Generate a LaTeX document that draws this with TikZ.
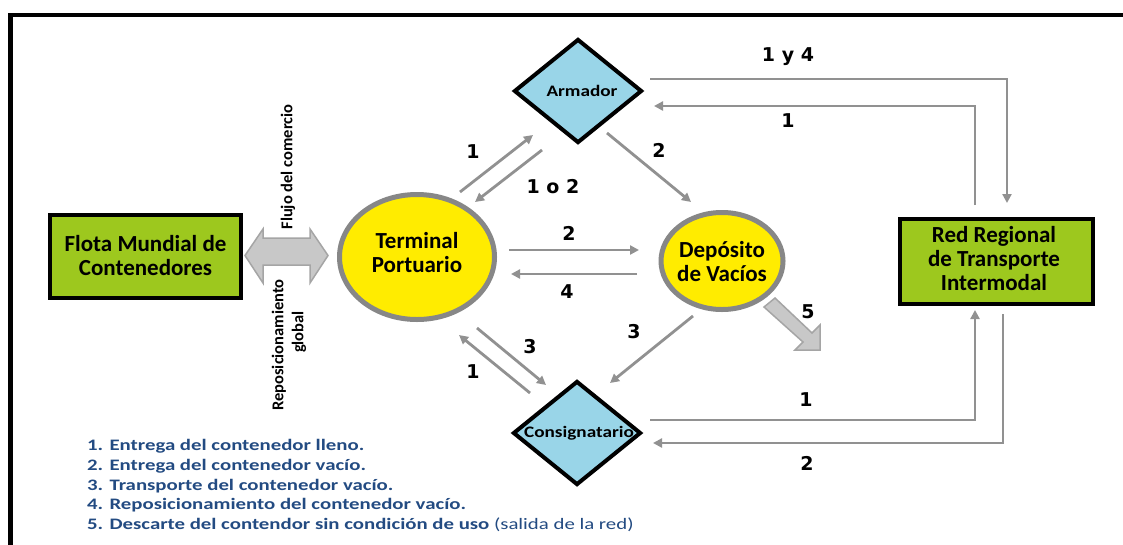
\documentclass[tikz,border=0pt]{standalone}
\usepackage{fontspec}
\setmainfont{Carlito}
\newfontfamily\lblfont{DejaVu Sans}
\newfontfamily\dmdfont{Carlito}[FakeStretch=1.2]
\newfontfamily\legfont{Carlito}[FakeStretch=1.3]
\usetikzlibrary{shapes.geometric,arrows.meta,calc}
\definecolor{grn}{RGB}{157,200,30}
\definecolor{ylw}{RGB}{255,236,0}
\definecolor{ringgray}{RGB}{135,135,135}
\definecolor{ltblue}{RGB}{153,213,232}
\definecolor{arrgray}{RGB}{145,145,145}
\definecolor{fatfill}{RGB}{200,200,200}
\definecolor{fatdraw}{RGB}{165,165,165}
\definecolor{legblue}{RGB}{35,75,130}
\begin{document}
\begin{tikzpicture}[x=1pt,y=-1pt,
 box/.style={draw=black,line width=4pt,fill=grn,rectangle,inner sep=0pt},
 hub/.style={draw=ringgray,line width=5pt,fill=ylw,ellipse,inner sep=0pt},
 actor/.style={draw=black,line width=4pt,fill=ltblue,diamond,inner sep=0pt},
 bigtxt/.style={font=\fontsize{23}{24}\selectfont\bfseries,align=center,inner sep=0pt},
 dtxt/.style={font=\dmdfont\fontsize{16}{18}\selectfont\bfseries,inner sep=0pt},
 num/.style={font=\lblfont\fontsize{19}{20}\selectfont\bfseries,inner sep=0pt},
 flow/.style={draw=arrgray,line width=2.8pt,-{Triangle[length=9pt,width=9pt]}},
 vtxt/.style={font=\fontsize{16.5}{19}\selectfont\bfseries,rotate=90,inner sep=0pt},
 fat/.style={fill=fatfill,draw=fatdraw,line width=1.5pt,line join=miter}
]
\useasboundingbox (0,0) rectangle (1123,544);
\clip (0,0) rectangle (1123,544);
\fill[white] (0,0) rectangle (1123,544);
\draw[line width=4.5pt] (10.3,15) rectangle (1200,600);

% nodes
\node[box,minimum width=191pt,minimum height=83pt] (flota) at (145.5,256.5) {};
\node[bigtxt] (flotatxt) at (145.5,256) {Flota Mundial de\\Contenedores};
\node[hub,minimum width=155pt,minimum height=125pt] (terminal) at (417,257) {};
\node[bigtxt] (terminaltxt) at (417,253) {Terminal\\Portuario};
\node[hub,minimum width=122pt,minimum height=97pt] (deposito) at (722,261) {};
\node[bigtxt] (depositotxt) at (722,262) {Depósito\\de Vacíos};
\node[actor,minimum width=128pt,minimum height=104pt] (armador) at (578,91) {};
\node[dtxt] (armadortxt) at (582,91) {Armador};
\node[actor,minimum width=128pt,minimum height=104pt] (consig) at (577,433) {};
\node[dtxt] (consigtxt) at (579,433) {Consignatario};
\node[box,minimum width=193pt,minimum height=85pt] (red) at (996.5,261.5) {};
\node[bigtxt] (redtxt) at (994,259) {Red Regional\\de Transporte\\Intermodal};

% double arrow
\draw[fat] (245,255.5) -- (263,229) -- (263,238) -- (310,238) -- (310,229) -- (328,255.5)
  -- (310,283) -- (310,265) -- (263,265) -- (263,283) -- cycle;
\node[vtxt] (flujo) at (288,167) {Flujo del comercio};
\node[vtxt] (repos) at (279,345) {Reposicionamiento};
\node[vtxt] (global) at (299,332) {global};

% fat arrow 5
\draw[fat] (820,350) -- (820,325) -- (812,333) -- (775,298) -- (764,307) -- (803,342) -- (795,350) -- cycle;

% connectors
\draw[flow] ($(armador.east)+(6,-12)$) -| ($(red.north)+(10.5,-14)$);
\draw[flow] ($(red.north)+(-21.5,-12)$) |- ($(armador.east)+(10,15)$);
\draw[flow] ($(terminal.center)+(43,-65)$) -- ($(armador.center)+(-45,44)$);
\draw[flow] ($(armador.center)+(-36,59)$) -- ($(terminal.center)+(58,-55)$);
\draw[flow] ($(armador.center)+(29,42)$) -- ($(deposito.center)+(-31,-59)$);
\draw[flow] ($(terminal.center)+(92,-7)$) -- ($(deposito.center)+(-83,-11)$);
\draw[flow] ($(deposito.center)+(-85,13)$) -- ($(terminal.center)+(94,17)$);
\draw[flow] ($(deposito.center)+(-29,55)$) -- ($(consig.center)+(33,-50)$);
\draw[flow] ($(terminal.center)+(60,71)$) -- ($(consig.center)+(-31,-48)$);
\draw[flow] ($(consig.center)+(-47,-40)$) -- ($(terminal.center)+(42,78)$);
\draw[flow] ($(consig.center)+(73,-13)$) -| ($(red.south)+(-21.5,4)$);
\draw[flow] ($(red.south)+(6.5,8)$) |- ($(consig.center)+(76,10)$);

% labels
\node[num] (l1) at (788,57) {1 y 4};
\node[num] (l2) at (788,121) {1};
\node[num] (l3) at (473,152) {1};
\node[num] (l4) at (553,187) {1 o 2};
\node[num] (l5) at (659,150) {2};
\node[num] (l6) at (569,233) {2};
\node[num] (l7) at (567,292) {4};
\node[num] (l8) at (634,332) {3};
\node[num] (l9) at (530,347) {3};
\node[num] (l10) at (473,372) {1};
\node[num] (l11) at (808,312) {5};
\node[num] (l12) at (806,400) {1};
\node[num] (l13) at (807,463) {2};

% legend
\node[anchor=north west,font=\legfont\fontsize{16}{19.8}\selectfont\bfseries,text=legblue,align=left,inner sep=0pt] (legend) at (87,439)
{1. Entrega del contenedor lleno.\\
2. Entrega del contenedor vacío.\\
3. Transporte del contenedor vacío.\\
4. Reposicionamiento del contenedor vacío.\\
5. Descarte del contendor sin condición de uso {\mdseries (salida de la red)}};
\end{tikzpicture}
\end{document}
